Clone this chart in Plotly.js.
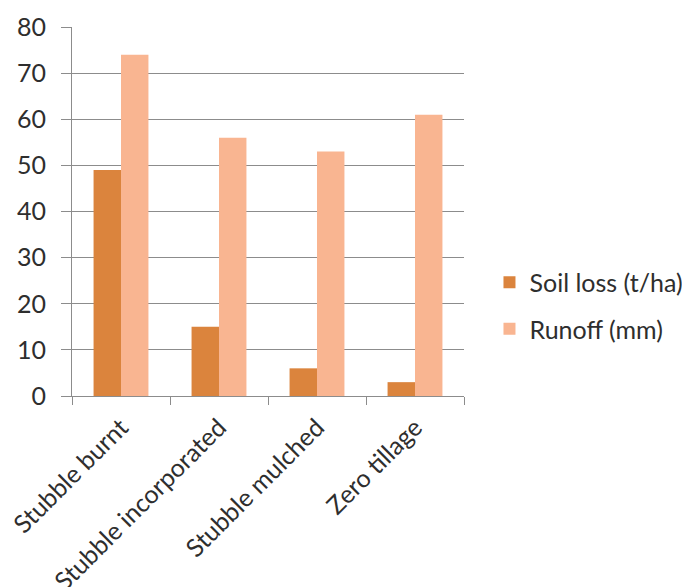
<!DOCTYPE html>
<html>
<head>
<meta charset="utf-8">
<script src="https://cdn.plot.ly/plotly-3.0.1.min.js"></script>
<style>html,body{margin:0;padding:0;background:#fff;}#chart{width:682px;height:587px;}</style>
</head>
<body>
<div id="chart"></div>
<script>
const categories = ["Stubble burnt", "Stubble incorporated", "Stubble mulched", "Zero tillage"];
const soilLoss = [49, 15, 6, 3];
const runoff = [74, 56, 53, 61];
const yTicks = [0, 10, 20, 30, 40, 50, 60, 70, 80];

const font = {family: "Lato, 'Open Sans', sans-serif", size: 25, color: "#2e2e2e"};

const data = [
  {type: "bar", name: "Soil loss (t/ha)", x: categories, y: soilLoss, marker: {color: "#DB843D"}, legendgroup: "a"},
  {type: "bar", name: "Runoff (mm)", x: categories, y: runoff, marker: {color: "#F9B591"}, legendgroup: "b"}
];

const layout = {
  width: 682, height: 587,
  margin: {l: 72, r: 218, t: 27, b: 191, autoexpand: false},
  paper_bgcolor: "#fff", plot_bgcolor: "#fff",
  font: font,
  barmode: "group", bargap: 0.44, bargroupgap: 0,
  showlegend: true,
  legend: {x: 1.065, xanchor: "left", y: 0.245, yanchor: "middle", font: font, tracegroupgap: 11, itemwidth: 30},
  xaxis: {
    type: "category", tickangle: -45, tickson: "boundaries",
    ticks: "outside", ticklen: 8, tickcolor: "#8c8c8c",
    showline: true, linecolor: "#8c8c8c", linewidth: 1,
    showgrid: false, tickfont: font, ticklabelstandoff: 6
  },
  yaxis: {
    range: [0, 80], tickvals: yTicks, ticktext: yTicks.map(String),
    ticks: "outside", ticklen: 10, tickcolor: "#8c8c8c",
    showline: true, linecolor: "#8c8c8c", linewidth: 1,
    showgrid: true, gridcolor: "#8c8c8c", gridwidth: 1,
    zeroline: false, tickfont: font, ticklabelstandoff: 10
  }
};

Plotly.newPlot("chart", data, layout, {displayModeBar: false, staticPlot: true});
</script>
</body>
</html>
